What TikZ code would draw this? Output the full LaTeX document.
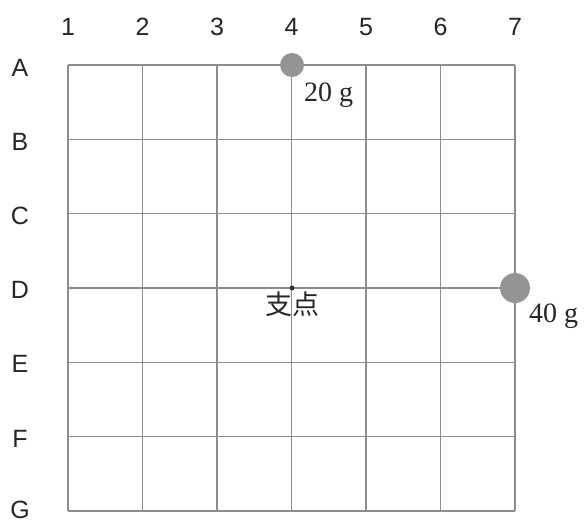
\documentclass[tikz,border=0pt]{standalone}
\usepackage{fontspec}
\setmainfont{Liberation Serif}
\newfontfamily\labfont{Liberation Sans}
\newfontfamily\cjkfont{Noto Sans CJK JP}
\begin{document}
\begin{tikzpicture}[x=1pt,y=-1pt,
  gridline/.style={draw=black!45,line width=1.1pt},
  lab/.style={font=\labfont\fontsize{25}{25}\selectfont,text=black!85,inner sep=0pt},
  wlab/.style={font=\fontsize{28}{28}\selectfont,text=black!85,inner sep=0pt,anchor=west},
  ball/.style={circle,fill=black!42,inner sep=0pt}]
\useasboundingbox (0,0) rectangle (585,523);
% grid
\foreach \i in {0,...,6} {
  \draw[gridline] ({68+74.5*\i},65) -- ({68+74.5*\i},511);
  \draw[gridline] (68,{65+74.33*\i}) -- (515,{65+74.33*\i});
}
% column labels
\foreach \n [count=\i from 0] in {1,...,7}
  \node[lab] (c\n) at ({68+74.5*\i},27) {\n};
% row labels
\foreach \r [count=\i from 0] in {A,B,C,D,E,F}
  \node[lab] (r\r) at (20,{67.5+74.2*\i}) {\r};
\node[lab] (rG) at (20,510) {G};
% weights
\node[ball,minimum size=24pt] (w20) at (292,65) {};
\node[wlab] (t20) at (304,95) {20 g};
\node[ball,minimum size=30pt] (w40) at (515,288) {};
\node[wlab] (t40) at (529,316) {40 g};
% fulcrum
\node[circle,fill=black!80,inner sep=0pt,minimum size=5pt] (f) at (292,288) {};
\node[font=\cjkfont\fontsize{27}{27}\selectfont,text=black!85,inner sep=0pt] (ft) at (292,304) {支点};
\end{tikzpicture}
\end{document}
